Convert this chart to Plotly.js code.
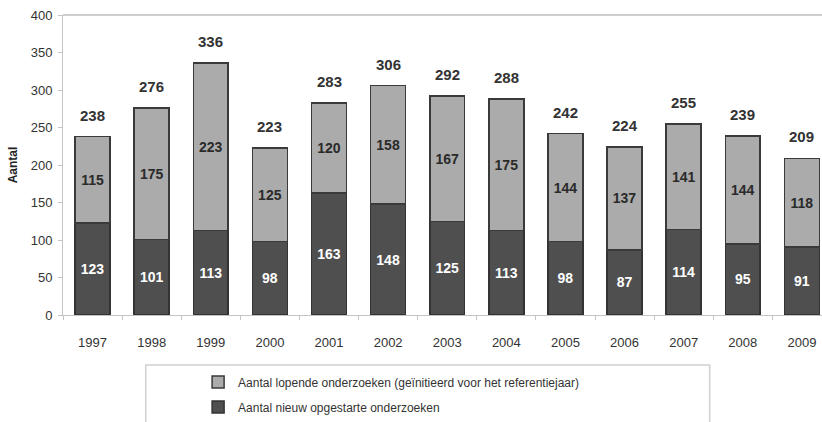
<!DOCTYPE html>
<html>
<head>
<meta charset="utf-8">
<script src="https://cdn.plot.ly/plotly-3.0.1.min.js"></script>
<style>html,body{margin:0;padding:0;background:#fff;}#chart{width:822px;height:422px;}</style>
</head>
<body>
<div id="chart"></div>
<script>
const years = ['1997','1998','1999','2000','2001','2002','2003','2004','2005','2006','2007','2008','2009'];
const nieuw = [123,101,113,98,163,148,125,113,98,87,114,95,91];
const lopende = [115,175,223,125,120,158,167,175,144,137,141,144,118];
const totals = [238,276,336,223,283,306,292,288,242,224,255,239,209];
const nameLopende = 'Aantal lopende onderzoeken (geïnitieerd voor het referentiejaar)';
const nameNieuw = 'Aantal nieuw opgestarte onderzoeken';
const yTitle = 'Aantal';

const fontFam = '"Liberation Sans", Arial, sans-serif';

const traces = [
  {
    type: 'bar', x: years, y: nieuw, name: nameNieuw, legendgroup: 'n', legendrank: 2,
    marker: {color: '#4f4f4f', line: {color: '#333333', width: 1.5}},
    width: 0.59,
    text: nieuw.map(String), textposition: 'inside', insidetextanchor: 'middle',
    textfont: {family: fontFam, size: 14, color: '#ffffff', weight: 'bold'},
    hoverinfo: 'none'
  },
  {
    type: 'bar', x: years, y: lopende, name: nameLopende, legendgroup: 'l', legendrank: 1,
    marker: {color: '#ababab', line: {color: '#3a3a3a', width: 1.5}},
    width: 0.59,
    text: lopende.map(String), textposition: 'inside', insidetextanchor: 'middle',
    textfont: {family: fontFam, size: 14, color: '#2a2a2a', weight: 'bold'},
    hoverinfo: 'none'
  }
];

const annotations = years.map((yr, i) => ({
  x: i, y: totals[i], xref: 'x', yref: 'y',
  text: String(totals[i]), showarrow: false,
  yanchor: 'bottom', yshift: 11,
  font: {family: fontFam, size: 15, color: '#333333', weight: 'bold'}
}));

const layout = {
  width: 822, height: 422,
  margin: {l: 63, r: 0, t: 15, b: 101, pad: 0},
  paper_bgcolor: '#ffffff', plot_bgcolor: '#ffffff',
  barmode: 'stack',
  font: {family: fontFam, color: '#333333', size: 12},
  xaxis: {
    type: 'category', range: [-0.5, 12.34],
    showgrid: false, zeroline: false, showline: true, linecolor: '#c4c4c4', linewidth: 1,
    ticks: 'outside', tickson: 'boundaries', ticklen: 4, tickcolor: '#c4c4c4',
    tickfont: {family: fontFam, size: 13, color: '#333333'},
    ticklabelstandoff: 15
  },
  yaxis: {
    range: [0, 400], dtick: 50, showgrid: false, zeroline: false,
    showline: true, linecolor: '#c4c4c4', linewidth: 1,
    ticks: 'outside', ticklen: 4, tickcolor: '#c4c4c4',
    tickfont: {family: fontFam, size: 13, color: '#333333'},
    ticklabelstandoff: 3,
    title: {text: yTitle, font: {family: fontFam, size: 12, color: '#222222', weight: 'bold'}, standoff: 10}
  },
  showlegend: true,
  legend: {
    x: 0.178, y: -0.175, xanchor: 'left', yanchor: 'top',
    orientation: 'v', bgcolor: 'rgba(0,0,0,0)', borderwidth: 0,
    traceorder: 'grouped',
    font: {family: fontFam, size: 12, color: '#333333'},
    tracegroupgap: 6, itemwidth: 30
  },
  shapes: [
    {type: 'line', xref: 'paper', yref: 'paper', x0: 0, x1: 1, y0: 1, y1: 1,
     line: {color: '#bdbdbd', width: 1.5}},
    {type: 'rect', xref: 'paper', yref: 'paper', x0: 0.109, x1: 0.852, y0: -0.1667, y1: -0.4,
     line: {color: '#d0d0d0', width: 1.5}, fillcolor: 'rgba(0,0,0,0)'}
  ],
  annotations: annotations
};

Plotly.newPlot('chart', traces, layout, {displayModeBar: false, staticPlot: true});
</script>
</body>
</html>
